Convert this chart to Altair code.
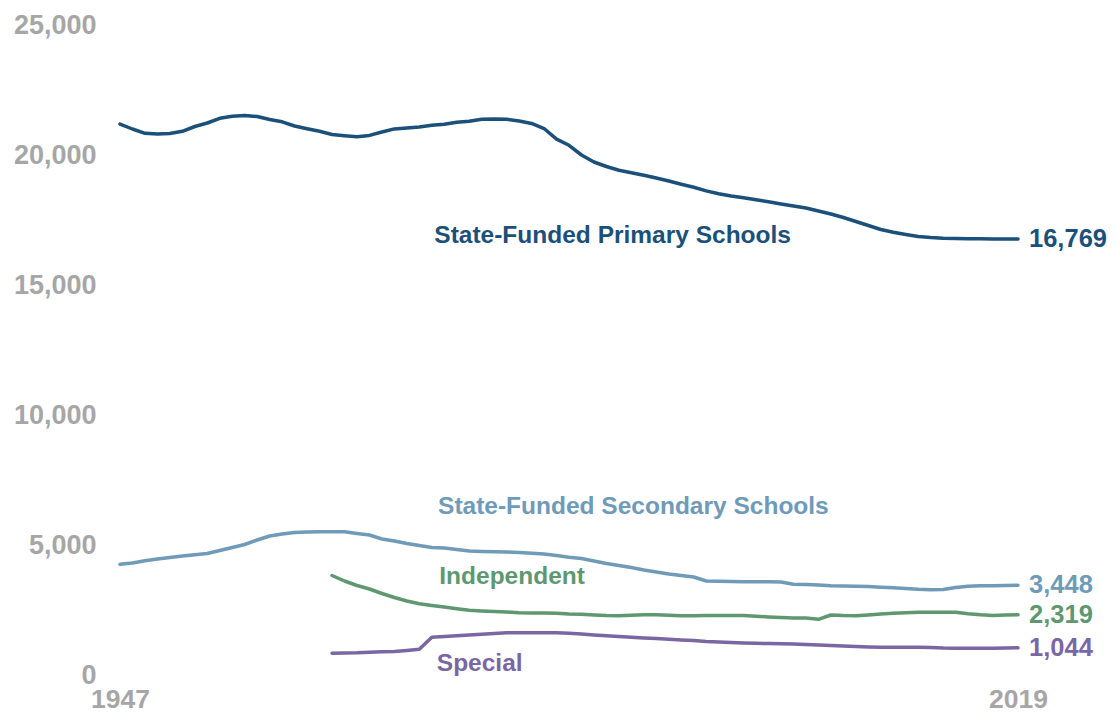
import altair as alt
import pandas as pd

years = list(range(1947, 2020))
special_years = list(range(1964, 2020))

primary = [21192, 21000, 20835, 20808, 20827, 20912, 21096, 21231, 21412, 21488,
           21519, 21481, 21365, 21277, 21115, 21008, 20912, 20788, 20742, 20704,
           20754, 20885, 21004, 21038, 21077, 21142, 21185, 21258, 21296, 21373,
           21385, 21377, 21308, 21212, 21019, 20608, 20373, 20000, 19731, 19558,
           19412, 19319, 19223, 19115, 19000, 18873, 18758, 18619, 18508, 18423,
           18354, 18277, 18200, 18119, 18038, 17962, 17846, 17731, 17596, 17442,
           17288, 17135, 17027, 16942, 16865, 16823, 16796, 16790, 16780, 16775,
           16770, 16769, 16769]

secondary = [4258, 4308, 4392, 4462, 4519, 4577, 4623, 4673, 4788, 4904,
             5019, 5192, 5346, 5423, 5481, 5500, 5508, 5508, 5508, 5442,
             5385, 5231, 5154, 5058, 4981, 4904, 4885, 4827, 4769, 4750,
             4738, 4731, 4712, 4685, 4654, 4596, 4527, 4481, 4385, 4288,
             4212, 4135, 4038, 3962, 3885, 3827, 3769, 3615, 3604, 3592,
             3585, 3585, 3585, 3577, 3488, 3477, 3462, 3431, 3423, 3412,
             3400, 3377, 3354, 3327, 3296, 3277, 3288, 3365, 3412, 3431,
             3435, 3442, 3448]

independent = [3827, 3615, 3442, 3308, 3135, 2981, 2846, 2738, 2673, 2615,
               2550, 2488, 2462, 2438, 2423, 2396, 2385, 2385, 2373, 2346,
               2335, 2308, 2288, 2281, 2296, 2315, 2319, 2296, 2281, 2281,
               2288, 2288, 2292, 2288, 2262, 2231, 2208, 2192, 2192, 2142,
               2308, 2285, 2277, 2308, 2346, 2373, 2392, 2412, 2415, 2415,
               2412, 2354, 2315, 2288, 2308, 2319]

special = [835, 846, 854, 873, 892, 904, 942, 988, 1450, 1481,
           1508, 1538, 1569, 1596, 1623, 1627, 1627, 1627, 1623, 1604,
           1577, 1538, 1508, 1481, 1454, 1423, 1400, 1373, 1346, 1323,
           1288, 1269, 1250, 1231, 1219, 1208, 1200, 1188, 1173, 1154,
           1135, 1115, 1096, 1077, 1065, 1065, 1065, 1065, 1058, 1038,
           1031, 1031, 1031, 1031, 1038, 1044]

series_names = ["Primary", "Secondary", "Independent", "Special"]
series_colors = ["#1a5079", "#6f9ab8", "#5f9870", "#7a66a3"]

label_texts = ["State-Funded Primary Schools", "State-Funded Secondary Schools",
               "Independent", "Special"]
label_years = [1972.2, 1972.5, 1972.6, 1972.4]
label_values = [16885, 6462, 3769, 423]

rows = []
for name, ys, vals in [("Primary", years, primary), ("Secondary", years, secondary),
                       ("Independent", special_years, independent), ("Special", special_years, special)]:
    for y, v in zip(ys, vals):
        rows.append({"year": y, "value": v, "series": name})
df = pd.DataFrame(rows)

labels_df = pd.DataFrame({"year": label_years, "value": label_values,
                          "text": label_texts, "series": series_names})

ends_df = pd.DataFrame({"year": [2019] * 4,
                        "value": [primary[-1], secondary[-1], independent[-1], special[-1]],
                        "series": series_names})

FONT = "Liberation Sans"
GRAY = "#a6a6a6"

xscale = alt.Scale(domain=[1947, 2019], nice=False, zero=False)
yscale = alt.Scale(domain=[0, 25000], nice=False)
cscale = alt.Scale(domain=series_names, range=series_colors)

lines = alt.Chart(df).mark_line(strokeWidth=3.5, strokeJoin="round", strokeCap="round").encode(
    x=alt.X("year:Q", scale=xscale,
            axis=alt.Axis(values=[1947, 2019], format="d", title=None, domain=False, ticks=False,
                          grid=False, labelFont=FONT, labelFontSize=26.5, labelFontWeight="bold",
                          labelColor=GRAY, labelPadding=11, labelFlush=False, labelOverlap=False)),
    y=alt.Y("value:Q", scale=yscale,
            axis=alt.Axis(values=[0, 5000, 10000, 15000, 20000, 25000], format=",.0f", title=None,
                          domain=False, ticks=False, grid=False, labelFont=FONT, labelFontSize=27,
                          labelFontWeight="bold", labelColor=GRAY, labelPadding=24,
                          labelFlush=False, labelOverlap=False)),
    color=alt.Color("series:N", scale=cscale, legend=None),
    detail="series:N",
)

labels = alt.Chart(labels_df).mark_text(align="left", baseline="middle", font=FONT,
                                        fontSize=24.5, fontWeight="bold").encode(
    x=alt.X("year:Q", scale=xscale),
    y=alt.Y("value:Q", scale=yscale),
    text="text:N",
    color=alt.Color("series:N", scale=cscale, legend=None),
)

ends = alt.Chart(ends_df).mark_text(align="left", baseline="middle", dx=11, font=FONT,
                                    fontSize=25.5, fontWeight="bold").encode(
    x=alt.X("year:Q", scale=xscale),
    y=alt.Y("value:Q", scale=yscale),
    text=alt.Text("value:Q", format=",.0f"),
    color=alt.Color("series:N", scale=cscale, legend=None),
)

chart = alt.layer(lines, labels, ends).properties(
    width=898, height=650,
    autosize=alt.AutoSizeParams(type="none"),
    padding={"left": 112, "top": 17, "right": 92, "bottom": 37},
).configure(background="white", view=alt.ViewConfig(strokeOpacity=0, strokeWidth=0))

chart.save("out.html", embed_options={"renderer": "svg", "actions": False})
